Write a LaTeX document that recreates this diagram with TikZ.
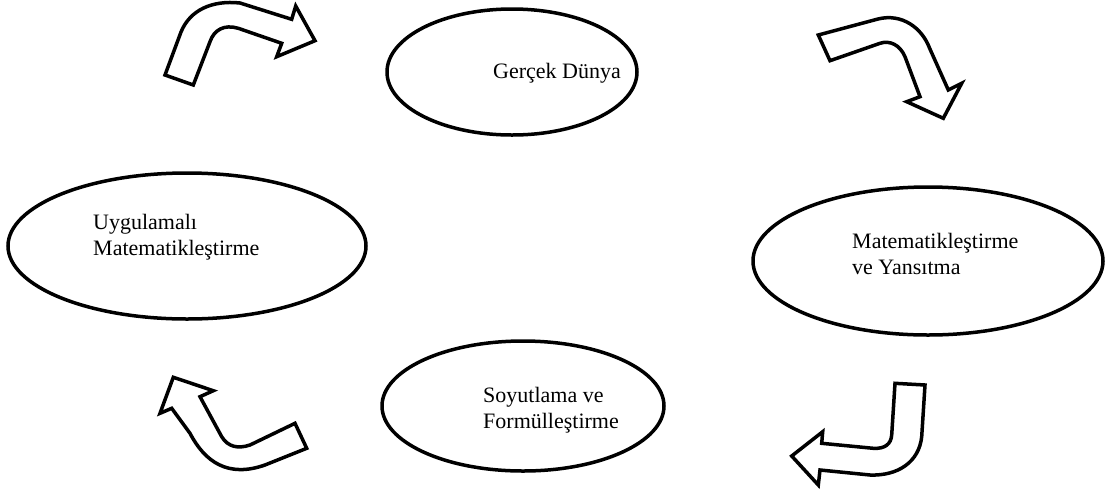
\documentclass[tikz,border=0pt]{standalone}
\usepackage{fontspec}
\setmainfont{Liberation Serif}
\usetikzlibrary{shapes.geometric}
\begin{document}
\begin{tikzpicture}[x=1pt,y=-1pt,
  oval/.style={draw=black,line width=3.5pt,ellipse,inner sep=0pt},
  lbl/.style={anchor=base west,inner sep=0pt,align=left,font=\fontsize{22}{25.5}\selectfont},
  blockarrow/.style={draw=black,line width=3.5pt,fill=white,line join=miter}]
\useasboundingbox (0,0) rectangle (1106,499);
% ellipses
\node[oval,minimum width=250pt,minimum height=126pt] (e1) at (512,72) {};
\node[oval,minimum width=358pt,minimum height=146pt] (e2) at (187,246) {};
\node[oval,minimum width=350pt,minimum height=148pt] (e3) at (928,261) {};
\node[oval,minimum width=282pt,minimum height=130pt] (e4) at (523,406) {};
% labels
\node[lbl] (t1) at (493,78) {Gerçek Dünya};
\node[lbl] (t2) at (93,255) {Uygulamalı\\Matematikleştirme};
\node[lbl] (t3) at (852,274) {Matematikleştirme\\ve Yansıtma};
\node[lbl] (t4) at (483,428) {Soyutlama ve\\Formülleştirme};
% block arrows
\draw[blockarrow] (165,75) -- (181,32) .. controls (190,10) and (212,0) .. (240,3)
  -- (291.7,19.3) -- (295.7,6) -- (315,40.7) -- (276.7,56.7) -- (281.7,43.3)
  -- (238.3,28.3) .. controls (224,24) and (214,30) .. (210,41.7) -- (193.3,85) -- cycle;
\draw[blockarrow] (818.3,35) -- (878,19) .. controls (902,13) and (922,28) .. (929.5,48)
  -- (948.3,90) -- (961.7,83.3) -- (943.3,118.3) -- (906.7,101.7) -- (920,96.7)
  -- (905,56.7) .. controls (900,45) and (890,40) .. (880,43.3) -- (830,60.7) -- cycle;
\draw[blockarrow] (895,383.3) -- (925,385) -- (921.7,436.7)
  .. controls (919,462) and (898,476) .. (870,475) -- (820,470) -- (818.3,485)
  -- (791.7,456) -- (822.7,431.7) -- (821.7,443.3) -- (873.3,448.3)
  .. controls (885,449) and (891,444) .. (891.7,435) -- cycle;
\draw[blockarrow] (295,423.3) -- (306.7,448.3) -- (265,465)
  .. controls (228,478) and (205,462) .. (190,433.3) -- (171.7,408.3) -- (160,413.3)
  -- (173.3,377.3) -- (213.3,390.7) -- (200,396.7) -- (221.7,436.7)
  .. controls (228,447) and (238,449) .. (250,445) -- cycle;
\end{tikzpicture}
\end{document}
